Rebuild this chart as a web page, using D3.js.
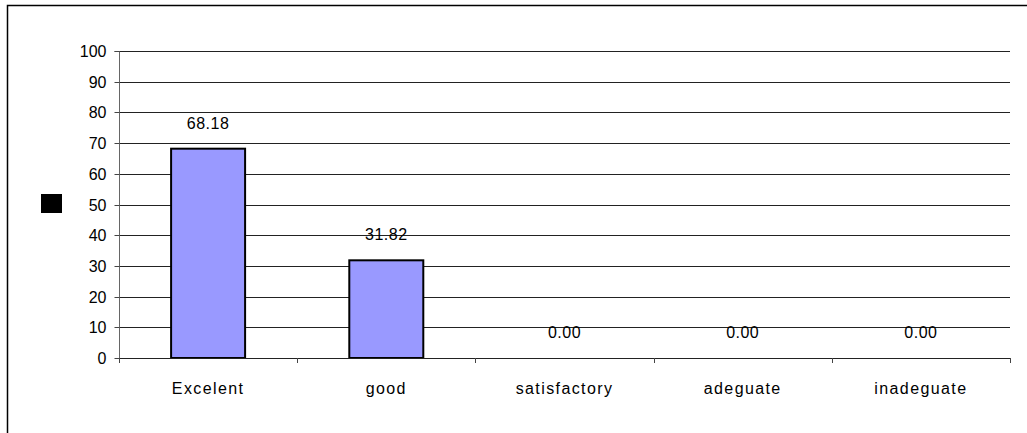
<!DOCTYPE html>
<html><head><meta charset="utf-8">
<script src="https://cdn.jsdelivr.net/npm/d3@7"></script>
<style>body{margin:0;background:#fff}svg{display:block}text{font-family:Arial,"Liberation Sans",sans-serif;fill:#000}</style>
</head><body><svg id="c" width="1027" height="433"></svg>
<script>
const categories = ["Excelent","good","satisfactory","adeguate","inadeguate"];
const values = [68.18,31.82,0,0,0];
const yTicks = [0,10,20,30,40,50,60,70,80,90,100];

(function(){
const svg = d3.select("#c");
const pL=119, pR=1010, pT=51, pB=358;
const FF = "Arial, 'Liberation Sans', sans-serif";
svg.append("rect").attr("x",7.5).attr("y",5.5).attr("width",1030).attr("height",440)
  .attr("fill","none").attr("stroke","#000").attr("stroke-width",1.5);

const x = d3.scaleBand().domain(categories).range([pL,pR]).paddingInner(0).paddingOuter(0);
const y = d3.scaleLinear().domain([0,100]).range([pB,pT]);

// gridlines
svg.append("g").selectAll("line").data(yTicks.filter(d=>d>0)).join("line")
  .attr("x1",pL).attr("x2",pR).attr("y1",d=>Math.round(y(d))+0.5).attr("y2",d=>Math.round(y(d))+0.5)
  .attr("stroke","#222").attr("stroke-width",1);

// y axis
const ya = svg.append("g").attr("transform",`translate(${pL+0.5},0)`)
  .call(d3.axisLeft(y).tickValues(yTicks).tickSize(5).tickPadding(8).tickFormat(d3.format("d")));
ya.select(".domain").attr("stroke","#666").attr("d",`M-5,${pT+0.5}H0V${pB+0.5}`);
ya.selectAll(".tick line").attr("stroke","#444");
ya.selectAll(".tick").attr("transform",d=>`translate(0,${Math.round(y(d))+0.5})`);
ya.selectAll("text").attr("font-size",16).attr("font-family",FF).attr("fill","#000");

// bars
const bw = 74;
svg.append("g").selectAll("rect").data(values.map((v,i)=>({v,c:categories[i]})).filter(d=>d.v>0)).join("rect")
  .attr("x",d=>x(d.c)+x.bandwidth()/2-bw/2).attr("width",bw)
  .attr("y",d=>y(d.v)).attr("height",d=>y(0)-y(d.v))
  .attr("fill","#9999ff").attr("stroke","#000").attr("stroke-width",2);

// x axis
const xa = svg.append("g").attr("transform",`translate(0,${pB+0.5})`)
  .call(d3.axisBottom(x).tickSize(0).tickPadding(24));
xa.select(".domain").remove();
svg.append("line").attr("x1",pL).attr("x2",pR+0.5).attr("y1",pB+0.5).attr("y2",pB+0.5).attr("stroke","#222");
svg.append("g").selectAll("line").data(d3.range(categories.length+1)).join("line")
  .attr("x1",i=>Math.round(pL+i*x.step())+0.5).attr("x2",i=>Math.round(pL+i*x.step())+0.5)
  .attr("y1",pB).attr("y2",pB+5).attr("stroke","#444");
xa.selectAll("text").attr("font-size",16).attr("font-family",FF).attr("fill","#000").attr("letter-spacing","1.4px");

// value labels
svg.append("g").selectAll("text").data(values.map((v,i)=>({v,c:categories[i]}))).join("text")
  .attr("x",d=>x(d.c)+x.bandwidth()/2).attr("y",d=>y(d.v)-20)
  .attr("text-anchor","middle").attr("font-size",16).attr("letter-spacing","0.5px").text(d=>d.v.toFixed(2));

// legend marker
svg.append("rect").attr("x",41).attr("y",194).attr("width",21).attr("height",19).attr("fill","#000");
})();
</script></body></html>
